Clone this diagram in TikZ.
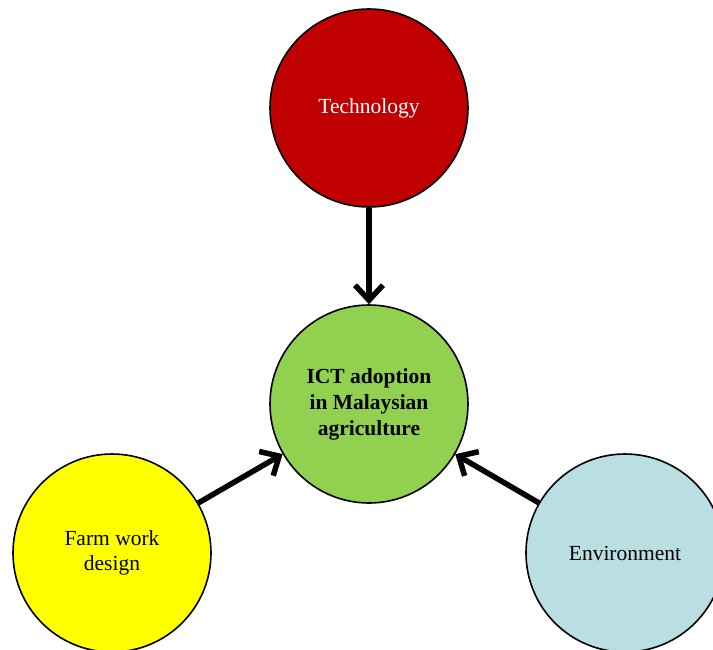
\documentclass[tikz,border=0pt]{standalone}
\usepackage{fontspec}
\setmainfont{Liberation Serif}
\usetikzlibrary{arrows.meta}
\definecolor{techred}{HTML}{C00000}
\definecolor{ictgreen}{HTML}{92D050}
\definecolor{farmyellow}{HTML}{FFFF00}
\definecolor{envblue}{HTML}{B9DFE3}
\tikzset{
  factor/.style={circle, draw=black, line width=1.6pt, minimum size=198pt,
    inner sep=0pt, align=center, font=\fontsize{21.5}{25.5}\selectfont},
  link/.style={line width=5.5pt, -{Straight Barb[length=15pt,width=28pt]}}
}
\begin{document}
\begin{tikzpicture}[x=1pt,y=-1pt]
  \useasboundingbox (0,0) rectangle (713,649);
  \clip (0,0) rectangle (713,649);
  \draw
    (369,108) node[factor, fill=techred, text=white] (tech){Technology}
    (369,404) node[factor, fill=ictgreen, font=\fontsize{21.5}{26}\selectfont\bfseries] (ict){ICT adoption\\in Malaysian\\agriculture}
    (112,553) node[factor, fill=farmyellow] (farm){Farm work\\design}
    (625,553) node[factor, fill=envblue] (env){Environment};
  \begin{scope}[link]
    \draw (tech) to (ict);
    \draw (farm) to (ict);
    \draw (env) to (ict);
  \end{scope}
\end{tikzpicture}
\end{document}
